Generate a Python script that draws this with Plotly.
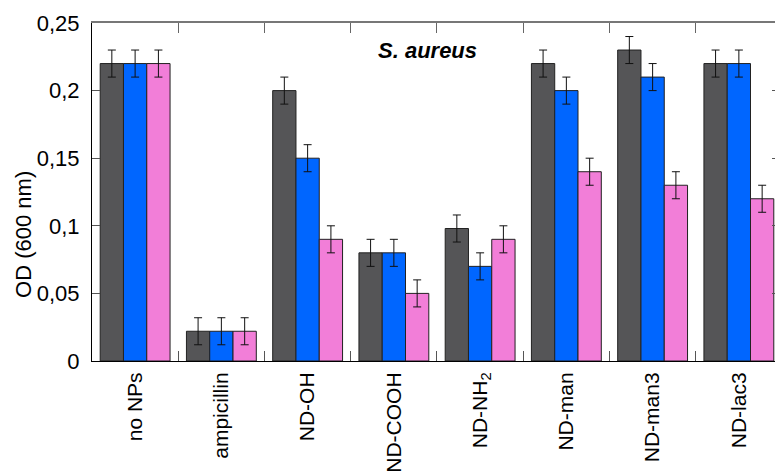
import plotly.graph_objects as go

categories = ["no NPs", "ampicillin", "ND-OH", "ND-COOH", "ND-NH<sub>2</sub>", "ND-man", "ND-man3", "ND-lac3"]
series_a = [0.22, 0.022, 0.20, 0.080, 0.098, 0.22, 0.23, 0.22]
series_b = [0.22, 0.022, 0.15, 0.080, 0.070, 0.20, 0.21, 0.22]
series_c = [0.22, 0.022, 0.09, 0.050, 0.090, 0.14, 0.13, 0.12]
err_a = [0.01] * 8
err_b = [0.01] * 8
err_c = [0.01] * 8
y_ticks = [0, 0.05, 0.1, 0.15, 0.2, 0.25]

colors = ["#555557", "#0066FF", "#F27ED8"]
FONT = "Arial, Liberation Sans, sans-serif"
FS = 22

x = list(range(len(categories)))
boundaries = [i + 0.5 for i in range(len(categories) - 1)]

fig = go.Figure()
for name, vals, errs, col in [("A", series_a, err_a, colors[0]),
                              ("B", series_b, err_b, colors[1]),
                              ("C", series_c, err_c, colors[2])]:
    fig.add_trace(go.Bar(
        x=x, y=vals, name=name, marker=dict(color=col, line=dict(color="#222222", width=1)),
        error_y=dict(type="data", array=errs, visible=True, color="#111111", thickness=1, width=4),
        showlegend=False,
    ))

# empty helper traces so the frame axes (boundary ticks, top line, right ticks) are drawn
for xa, ya in [("x2", "y"), ("x3", "y"), ("x", "y2")]:
    fig.add_trace(go.Scatter(x=[], y=[], xaxis=xa, yaxis=ya, showlegend=False,
                             hoverinfo="skip", mode="markers"))

xr = [-0.5, 7.419]
fig.update_layout(
    width=775, height=473,
    margin=dict(l=92, r=0, t=23, b=112),
    paper_bgcolor="white", plot_bgcolor="white",
    barmode="group", bargap=0.19, bargroupgap=0,
    separators=", ",
    font=dict(family=FONT, size=FS, color="black"),
    xaxis=dict(range=xr, tickmode="array", tickvals=x, ticktext=categories,
               tickangle=-90, ticks="", showline=True, linecolor="black", linewidth=1,
               showgrid=False, zeroline=False, ticklabelstandoff=2, automargin=False,
               tickfont=dict(family=FONT, size=21)),
    xaxis2=dict(range=xr, overlaying="x", anchor="y", side="bottom", tickmode="array",
                tickvals=boundaries, ticks="inside", ticklen=10, tickcolor="#555555",
                showticklabels=False, showline=False, showgrid=False, zeroline=False,
                automargin=False),
    xaxis3=dict(range=xr, overlaying="x", anchor="y", side="top", tickmode="array",
                tickvals=boundaries, ticks="inside", ticklen=10, tickcolor="#666666",
                showticklabels=False, showline=True, linecolor="#777777", linewidth=2,
                showgrid=False, zeroline=False, automargin=False),
    yaxis=dict(range=[0, 0.25], tickmode="array", tickvals=y_ticks,
               ticks="inside", ticklen=8, tickcolor="#555555",
               showline=True, linecolor="black", linewidth=1, showgrid=False, zeroline=False,
               ticklabelstandoff=7, tickfont=dict(family=FONT, size=FS), automargin=False),
    yaxis2=dict(range=[0, 0.25], overlaying="y", anchor="x", side="right", tickmode="array",
                tickvals=y_ticks, ticks="inside", ticklen=3, tickcolor="#555555",
                showticklabels=False, showline=False, showgrid=False, zeroline=False,
                automargin=False),
    annotations=[
        dict(text="<b><i>S. aureus</i></b>", xref="paper", yref="paper",
             x=0.4905, y=0.92, xanchor="center", yanchor="middle", showarrow=False,
             font=dict(family=FONT, size=FS, color="black")),
        dict(text="OD (600 nm)", xref="paper", yref="paper", textangle=-90,
             x=(24 - 92) / 683, y=0.373, xanchor="center", yanchor="middle", showarrow=False,
             font=dict(family=FONT, size=FS, color="black")),
    ],
)

fig.write_html("out.html", config={"displayModeBar": False},
               post_script="document.body.style.margin='0';document.body.style.overflow='hidden';")
